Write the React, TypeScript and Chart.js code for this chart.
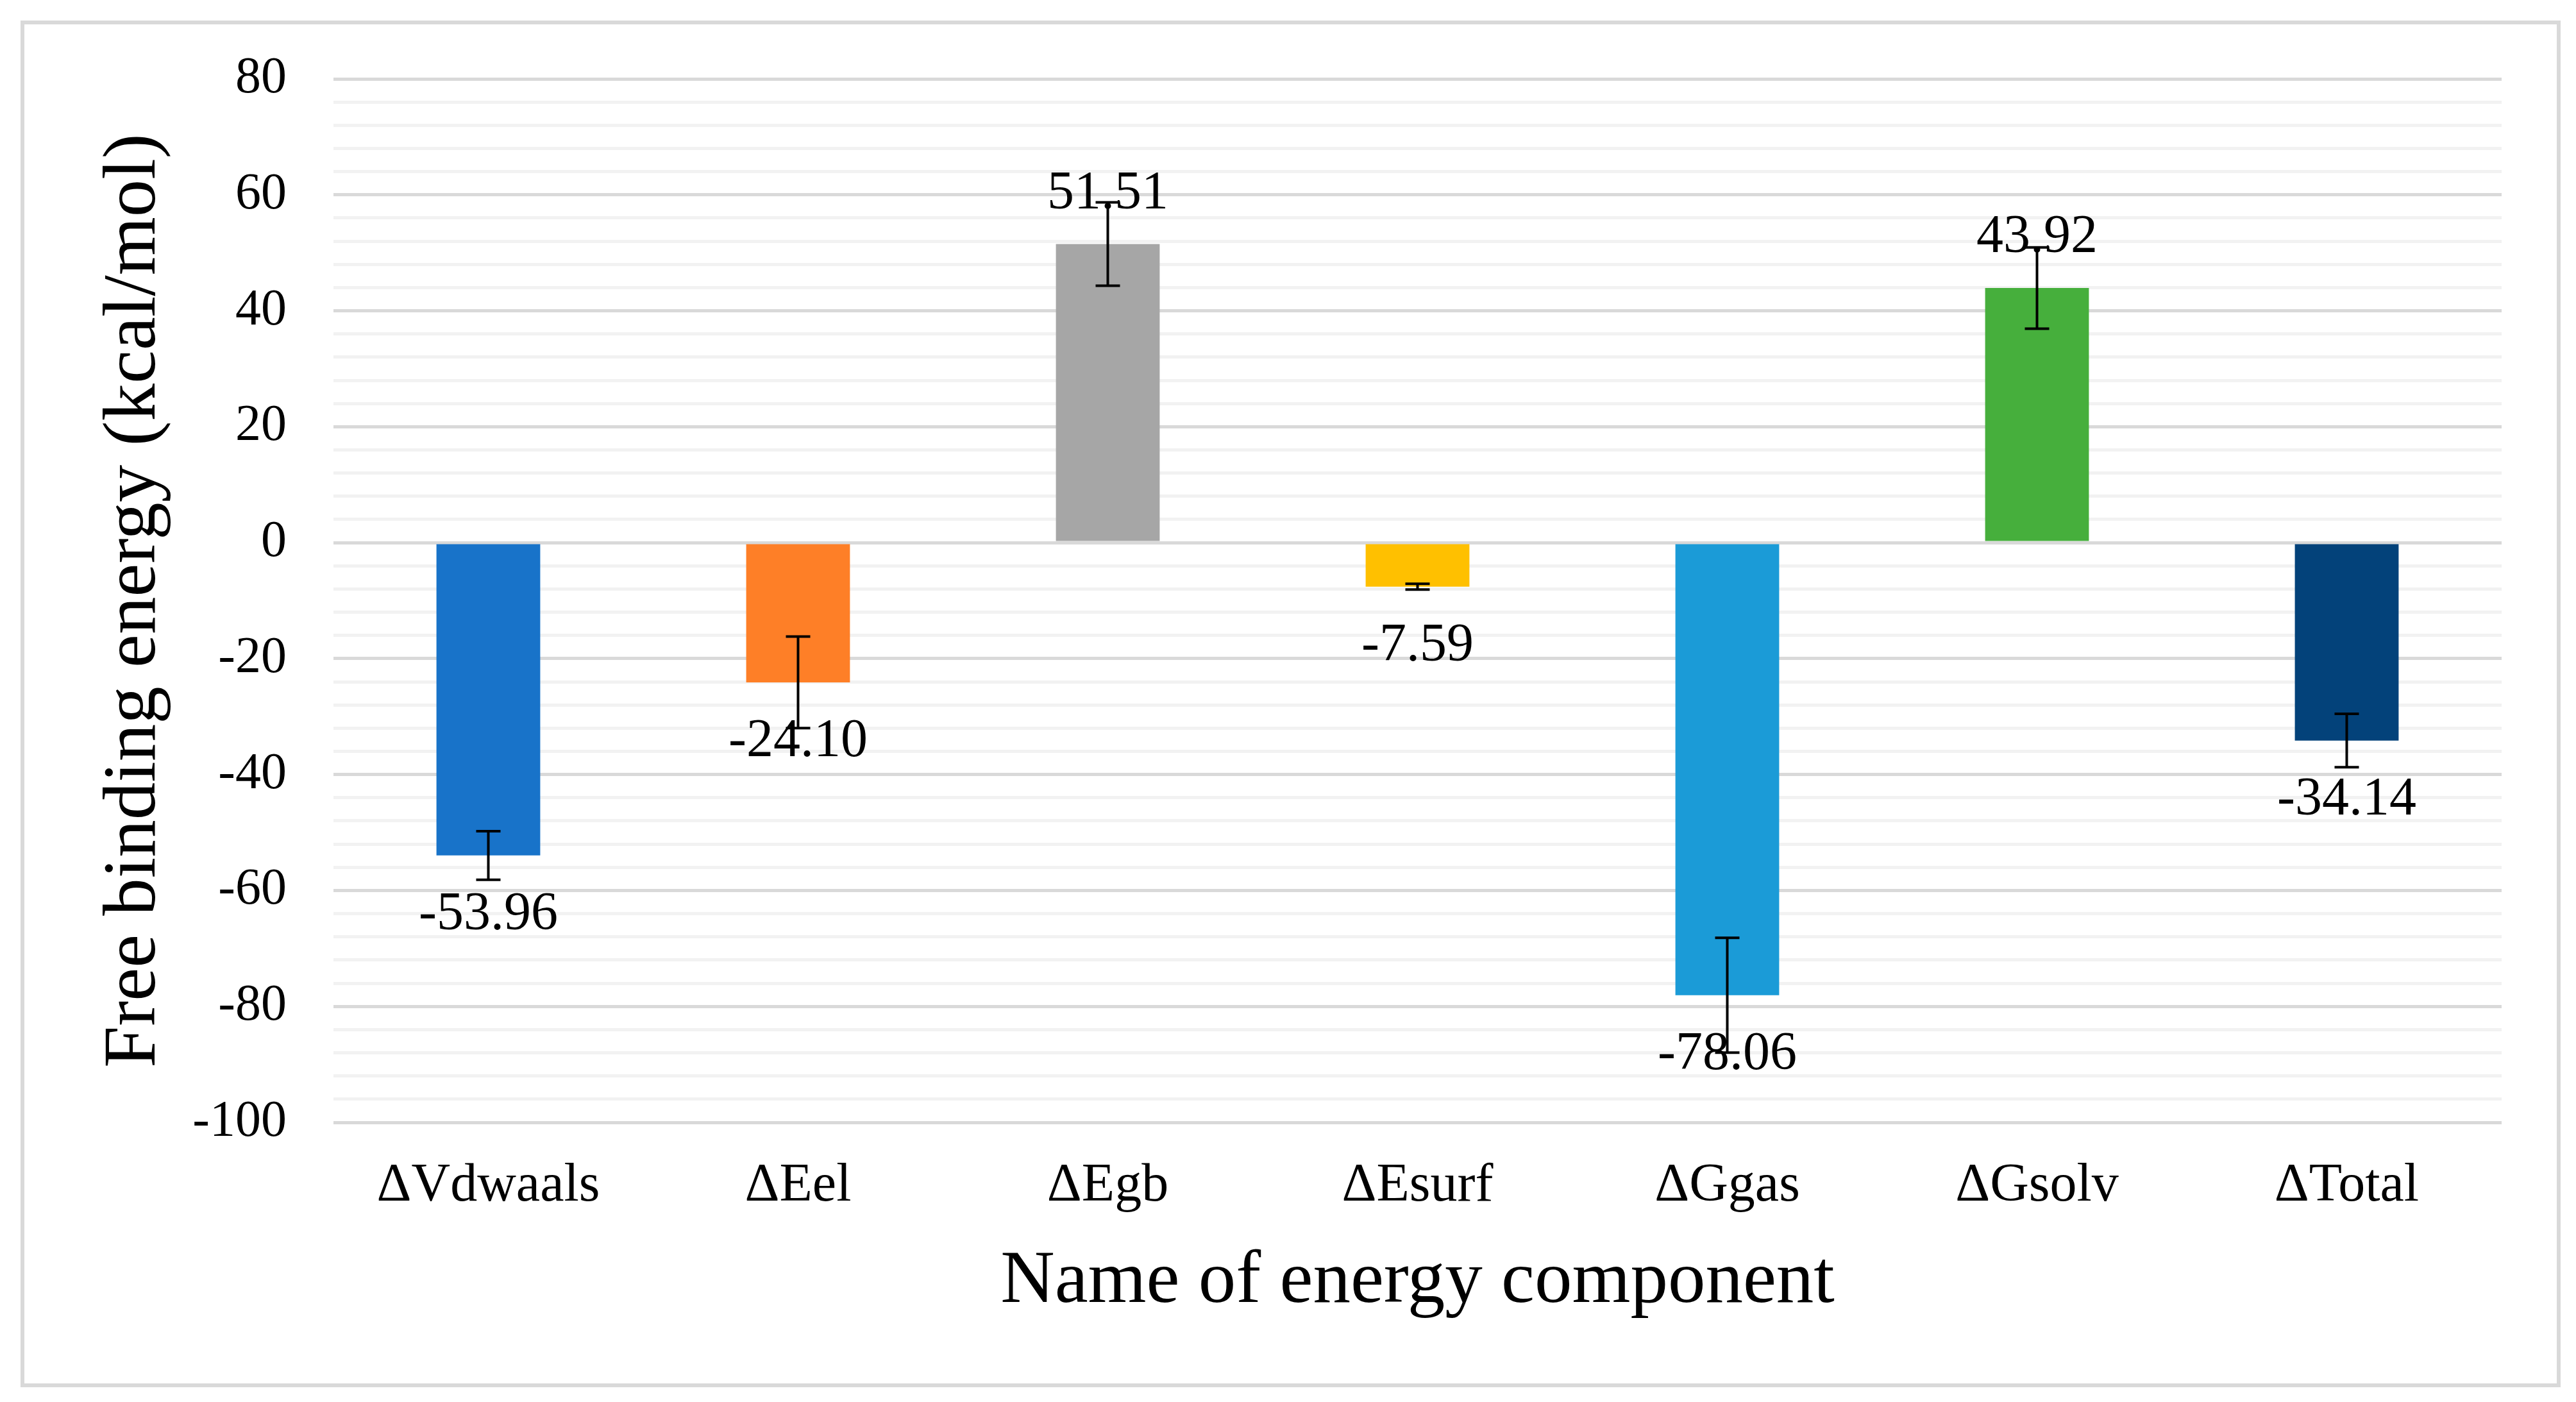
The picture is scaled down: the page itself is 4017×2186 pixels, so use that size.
import React, { useEffect, useRef } from "react";
import { Chart, registerables } from "chart.js";

Chart.register(...registerables);

const categories = ["ΔVdwaals", "ΔEel", "ΔEgb", "ΔEsurf", "ΔGgas", "ΔGsolv", "ΔTotal"];
const energyValues = [-53.96, -24.1, 51.51, -7.59, -78.06, 43.92, -34.14];
const errorValues = [4.2, 7.9, 7.2, 0.5, 9.9, 7.0, 4.6];
const barColors = ["#1873C9", "#FE7F27", "#A6A6A6", "#FFC000", "#1B9BD7", "#46AF3C", "#03427A"];
const yTickMin = -100;
const yTickMax = 80;
const yMajorStep = 20;
const yMinorStep = 4;
const yTitle = "Free binding energy (kcal/mol)";
const xTitle = "Name of energy component";

const FONT = '"Liberation Serif", "Times New Roman", serif';

const overlayPlugin = {
  id: "labelsAndErrors",
  afterDatasetsDraw(chart: any) {
    const { ctx } = chart;
    const yScale = chart.scales.y;
    const meta = chart.getDatasetMeta(0);
    ctx.save();
    // data labels
    ctx.fillStyle = "#000";
    ctx.font = `84px ${FONT}`;
    ctx.textAlign = "center";
    ctx.textBaseline = "middle";
    meta.data.forEach((bar: any, i: number) => {
      const v = energyValues[i];
      const y = yScale.getPixelForValue(v) + (v < 0 ? 93 : -78);
      ctx.fillText(v.toFixed(2), bar.x, y);
    });
    // error bars
    ctx.strokeStyle = "#000";
    ctx.lineWidth = 4;
    meta.data.forEach((bar: any, i: number) => {
      const v = energyValues[i];
      const e = errorValues[i];
      const yTop = yScale.getPixelForValue(v + e);
      const yBot = yScale.getPixelForValue(v - e);
      const cap = 19;
      ctx.beginPath();
      ctx.moveTo(bar.x, yTop);
      ctx.lineTo(bar.x, yBot);
      ctx.moveTo(bar.x - cap, yTop);
      ctx.lineTo(bar.x + cap, yTop);
      ctx.moveTo(bar.x - cap, yBot);
      ctx.lineTo(bar.x + cap, yBot);
      ctx.stroke();
    });
    ctx.restore();
  },
};

export default function App() {
  const canvasRef = useRef<HTMLCanvasElement | null>(null);

  useEffect(() => {
    if (!canvasRef.current) return;
    const chart = new Chart(canvasRef.current, {
      type: "bar",
      data: {
        labels: categories,
        datasets: [
          {
            data: energyValues,
            backgroundColor: barColors,
            borderWidth: 0,
            categoryPercentage: 1,
            barPercentage: 0.335,
          },
        ],
      },
      plugins: [overlayPlugin],
      options: {
        animation: false,
        responsive: true,
        maintainAspectRatio: false,
        devicePixelRatio: 1,
        layout: { padding: { top: 123, right: 116, left: 0, bottom: 0 } },
        plugins: {
          legend: { display: false },
          tooltip: { enabled: false },
        },
        scales: {
          x: {
            grid: { display: false, drawTicks: false },
            border: { display: false },
            ticks: {
              color: "#000",
              font: { family: FONT, size: 84 },
              padding: 50,
              maxRotation: 0,
              autoSkip: false,
            },
            title: {
              display: true,
              text: xTitle,
              color: "#000",
              font: { family: FONT, size: 117 },
              padding: { top: 0, bottom: 117 },
            },
            afterFit: (s: any) => {
              s.height = 436;
            },
          },
          y: {
            min: yTickMin,
            max: yTickMax,
            grid: {
              drawTicks: false,
              lineWidth: 5,
              color: (c: any) =>
                c.tick && Math.abs(c.tick.value % yMajorStep) < 1e-6 ? "#D9D9D9" : "#F2F2F2",
            },
            border: { display: false },
            ticks: {
              stepSize: yMinorStep,
              color: "#000",
              font: { family: FONT, size: 80 },
              padding: 73,
              autoSkip: false,
              callback: (v: any) => (Math.abs(Number(v) % yMajorStep) < 1e-6 ? String(v) : ""),
            },
            title: {
              display: true,
              text: yTitle,
              color: "#000",
              font: { family: FONT, size: 117 },
              padding: { top: 140, bottom: 0 },
            },
            afterFit: (s: any) => {
              s.width = 520;
            },
          },
        },
      },
    });
    return () => chart.destroy();
  }, []);

  return (
    <div style={{ position: "fixed", left: 0, top: 0, width: 4017, height: 2186, background: "#fff" }}>
      <div
        style={{
          position: "absolute",
          left: 32,
          top: 32,
          width: 3961,
          height: 2131,
          border: "6px solid #D9D9D9",
          boxSizing: "border-box",
        }}
      />
      <canvas ref={canvasRef} style={{ position: "absolute", left: 0, top: 0, width: 4017, height: 2186 }} />
    </div>
  );
}
